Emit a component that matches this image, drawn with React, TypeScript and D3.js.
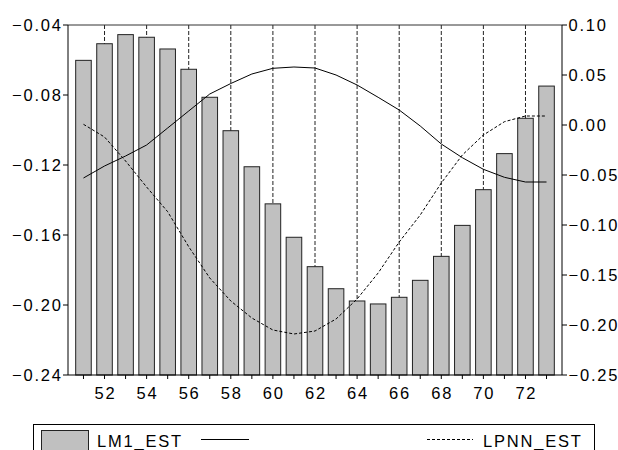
import React from "react";
import * as d3 from "d3";

// categories (years) and series
const years = [51, 52, 53, 54, 55, 56, 57, 58, 59, 60, 61, 62, 63, 64, 65, 66, 67, 68, 69, 70, 71, 72, 73];

// bars, left axis
const lm1Est = [
    -0.0602, -0.0507, -0.0455, -0.047, -0.0537, -0.0653, -0.0813, -0.1004, -0.121, -0.1422, -0.1613, -0.1781,
    -0.1907, -0.1977, -0.1994, -0.1956, -0.1859, -0.1722, -0.1545, -0.1341, -0.1135, -0.0933, -0.0749
];

// solid line, right axis
const solidSeries = [
    -0.053, -0.041, -0.031, -0.02, -0.003, 0.014, 0.031, 0.0415, 0.051, 0.0567, 0.058, 0.057,
    0.05, 0.04, 0.0277, 0.015, -0.001, -0.019, -0.0327, -0.0443, -0.0523, -0.057, -0.057
];

// dashed line, right axis
const lpnnEst = [
    0.0007, -0.012, -0.036, -0.062, -0.0867, -0.1217, -0.153, -0.176, -0.193, -0.205, -0.209, -0.206,
    -0.194, -0.174, -0.148, -0.117, -0.09, -0.058, -0.03, -0.01, 0.0033, 0.009, 0.009
];

const leftTicks = [-0.04, -0.08, -0.12, -0.16, -0.2, -0.24];
const rightTicks = [0.1, 0.05, 0.0, -0.05, -0.1, -0.15, -0.2, -0.25];
const labelYears = [52, 54, 56, 58, 60, 62, 64, 66, 68, 70, 72];

const layout = {
    width: 618,
    height: 450,
    left: 68,
    right: 562,
    top: 25,
    bottom: 375
};

const font = "'Liberation Sans', Arial, sans-serif";
const spacing = 1.8;

const App = () => {
    const xScale = d3
        .scaleBand<number>()
        .domain(years)
        .range([layout.left, layout.right])
        .paddingInner(0.26)
        .paddingOuter(0.365);
    const yLeft = d3.scaleLinear().domain([-0.24, -0.04]).range([layout.bottom, layout.top]);
    const yRight = d3.scaleLinear().domain([-0.25, 0.1]).range([layout.bottom, layout.top]);

    const cx = (yr: number) => (xScale(yr) as number) + xScale.bandwidth() / 2;

    const solidLine = d3
        .line<number>()
        .x((_, i) => cx(years[i]))
        .y(d => yRight(d))(solidSeries);
    const dashedLine = d3
        .line<number>()
        .x((_, i) => cx(years[i]))
        .y(d => yRight(d))(lpnnEst);

    const fmt2 = d3.format(".2f");

    return (
        <svg
            width={layout.width}
            height={layout.height}
            style={{ position: "absolute", left: 0, top: 0, background: "#fff" }}
            fontFamily={font}
            fontSize={16.5}
            letterSpacing={spacing}
        >
            {/* dashed grid at labelled years, behind the bars */}
            {labelYears.map(yr => (
                <line
                    key={`g${yr}`}
                    x1={cx(yr)}
                    x2={cx(yr)}
                    y1={layout.top}
                    y2={layout.bottom}
                    stroke="#222"
                    strokeWidth={1}
                    strokeDasharray="4,2"
                />
            ))}

            {years.map((yr, i) => (
                <rect
                    key={`b${yr}`}
                    x={xScale(yr)}
                    y={yLeft(lm1Est[i])}
                    width={xScale.bandwidth()}
                    height={layout.bottom - yLeft(lm1Est[i])}
                    fill="#c0c0c0"
                    stroke="#222"
                    strokeWidth={1}
                />
            ))}

            <path d={solidLine ?? ""} fill="none" stroke="#000" strokeWidth={1} />
            <path d={dashedLine ?? ""} fill="none" stroke="#000" strokeWidth={1} strokeDasharray="3,2" />

            {/* frame */}
            <line x1={layout.left} x2={layout.right} y1={layout.top} y2={layout.top} stroke="#333" />
            <line x1={layout.left} x2={layout.right} y1={layout.bottom} y2={layout.bottom} stroke="#000" />
            <line x1={layout.left} x2={layout.left} y1={layout.top} y2={layout.bottom} stroke="#000" />
            <line x1={layout.right} x2={layout.right} y1={layout.top} y2={layout.bottom} stroke="#000" />

            {/* left axis */}
            {leftTicks.map(v => (
                <g key={`l${v}`}>
                    <line x1={layout.left - 5} x2={layout.left} y1={yLeft(v)} y2={yLeft(v)} stroke="#000" />
                    <text x={layout.left - 7 + spacing} y={yLeft(v)} dy="0.36em" textAnchor="end">
                        {fmt2(v)}
                    </text>
                </g>
            ))}

            {/* right axis */}
            {rightTicks.map(v => (
                <g key={`r${v}`}>
                    <line x1={layout.right} x2={layout.right + 5} y1={yRight(v)} y2={yRight(v)} stroke="#000" />
                    <text x={layout.right + 6.5} y={yRight(v)} dy="0.36em" textAnchor="start">
                        {fmt2(v)}
                    </text>
                </g>
            ))}

            {/* bottom axis */}
            {years.map(yr => (
                <line
                    key={`t${yr}`}
                    x1={cx(yr)}
                    x2={cx(yr)}
                    y1={layout.bottom}
                    y2={layout.bottom + 4}
                    stroke="#000"
                />
            ))}
            {labelYears.map(yr => (
                <text key={`x${yr}`} x={cx(yr) + spacing / 2} y={399} textAnchor="middle">
                    {yr}
                </text>
            ))}

            {/* legend */}
            <rect x={33.5} y={424.5} width={561} height={60} fill="none" stroke="#000" />
            <rect x={41.5} y={430.5} width={47} height={40} fill="#c0c0c0" stroke="#222" />
            <text x={97} y={447}>
                LM1_EST
            </text>
            <line x1={201} x2={249} y1={439.5} y2={439.5} stroke="#000" />
            <line x1={427} x2={473} y1={439.5} y2={439.5} stroke="#000" strokeDasharray="3,2" />
            <text x={483} y={447}>
                LPNN_EST
            </text>
        </svg>
    );
};

export default App;
